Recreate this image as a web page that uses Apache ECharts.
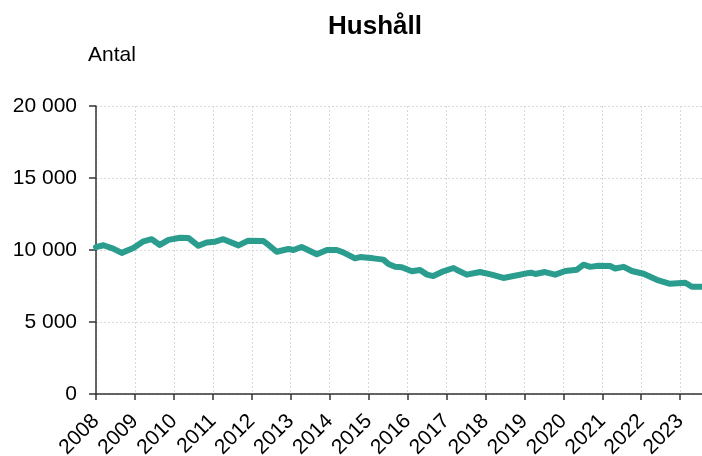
<!DOCTYPE html>
<html>
<head>
<meta charset="utf-8">
<script src="https://cdn.jsdelivr.net/npm/echarts@6/dist/echarts.min.js"></script>
<style>html,body{margin:0;padding:0;background:#fff}#c{width:702px;height:456px}</style>
</head>
<body>
<div id="c"></div>
<script>
const titleText = 'Hushåll';
const unitText = 'Antal';
const yTicks = [0, 5000, 10000, 15000, 20000];
const xYears = [2008, 2009, 2010, 2011, 2012, 2013, 2014, 2015, 2016, 2017, 2018, 2019, 2020, 2021, 2022, 2023];
const times = [2008.00, 2008.19, 2008.44, 2008.66, 2008.96, 2009.22, 2009.43, 2009.64, 2009.86, 2010.16,
  2010.37, 2010.63, 2010.84, 2011.06, 2011.27, 2011.66, 2011.91, 2012.30, 2012.43, 2012.64,
  2012.94, 2013.07, 2013.28, 2013.67, 2013.93, 2014.18, 2014.35, 2014.65, 2014.78, 2015.12,
  2015.38, 2015.51, 2015.68, 2015.85, 2016.11, 2016.32, 2016.50, 2016.66, 2016.92, 2017.18,
  2017.27, 2017.52, 2017.86, 2018.16, 2018.46, 2018.72, 2019.06, 2019.19, 2019.28, 2019.53,
  2019.79, 2020.05, 2020.35, 2020.52, 2020.69, 2020.90, 2021.20, 2021.33, 2021.55, 2021.76,
  2022.06, 2022.40, 2022.74, 2023.13, 2023.30, 2023.56];
const households = [10200, 10330, 10100, 9800, 10140, 10600, 10750, 10350, 10700, 10850,
  10840, 10290, 10520, 10580, 10750, 10320, 10650, 10620, 10350, 9880,
  10070, 10000, 10210, 9700, 10000, 10000, 9840, 9420, 9510, 9420,
  9330, 9030, 8840, 8800, 8520, 8610, 8290, 8190, 8520, 8750,
  8610, 8290, 8470, 8290, 8060, 8190, 8380, 8420, 8330, 8470,
  8290, 8540, 8630, 8980, 8830, 8910, 8890, 8720, 8830, 8540,
  8350, 7930, 7650, 7730, 7450, 7450];

const chart = echarts.init(document.getElementById('c'), null, {renderer: 'canvas'});
const fontFam = 'Liberation Sans, Arial, sans-serif';
chart.setOption({
  animation: false,
  backgroundColor: '#fff',
  graphic: [
    {type: 'text', style: {text: titleText, x: 375, y: 27, textAlign: 'center', textVerticalAlign: 'middle', font: 'bold 26px ' + fontFam, fill: '#000'}},
    {type: 'text', style: {text: unitText, x: 88, y: 55, textAlign: 'left', textVerticalAlign: 'middle', font: '21px ' + fontFam, fill: '#000'}}
  ],
  grid: {left: 96, right: 0, top: 106, bottom: 62, containLabel: false, outerBoundsMode: 'none'},
  xAxis: {
    type: 'value', min: xYears[0], max: times[times.length - 1], interval: 1,
    axisLine: {show: true, lineStyle: {color: '#333', width: 1.5}},
    axisTick: {show: true, length: 6, lineStyle: {color: '#333', width: 1.5}},
    axisLabel: {rotate: 45, margin: 24, color: '#000', fontSize: 21, fontFamily: fontFam, showMaxLabel: false,
      formatter: v => (xYears.indexOf(Math.round(v)) >= 0 && Math.abs(v - Math.round(v)) < 1e-6) ? String(Math.round(v)) : ''},
    splitLine: {show: true, lineStyle: {color: '#d9d9d9', type: [2, 2], width: 1}}
  },
  yAxis: {
    type: 'value', min: yTicks[0], max: yTicks[yTicks.length - 1], interval: 5000,
    axisLine: {show: true, lineStyle: {color: '#333', width: 1.5}},
    axisTick: {show: true, length: 7, lineStyle: {color: '#333', width: 1.5}},
    axisLabel: {margin: 19, color: '#000', fontSize: 21, fontFamily: fontFam,
      formatter: v => String(v).replace(/\B(?=(\d{3})+(?!\d))/g, ' ')},
    splitLine: {show: true, lineStyle: {color: '#d9d9d9', type: [2, 2], width: 1}}
  },
  series: [{
    type: 'line',
    data: times.map((t, i) => [t, households[i]]),
    showSymbol: false,
    smooth: false,
    lineStyle: {color: '#2a9d8f', width: 6, cap: 'round', join: 'round'},
    clip: true
  }]
});
</script>
</body>
</html>
